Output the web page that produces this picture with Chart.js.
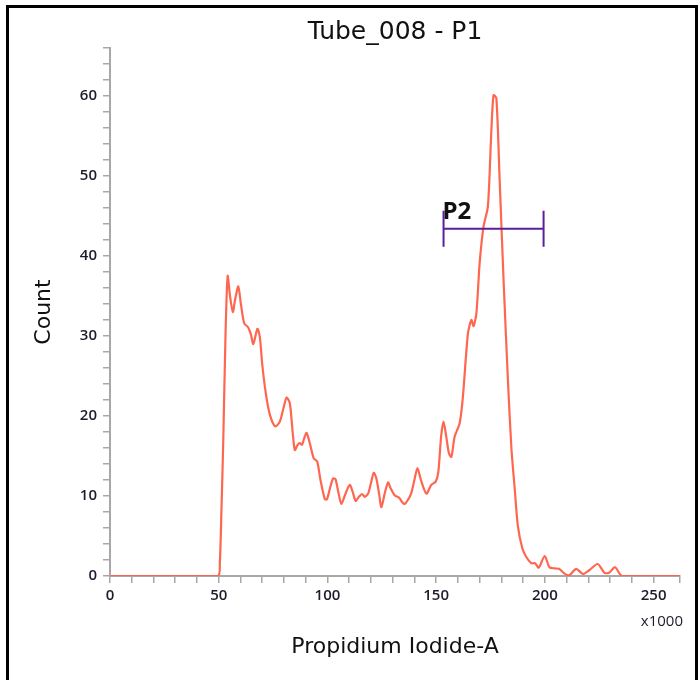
<!DOCTYPE html>
<html>
<head>
<meta charset="utf-8">
<script src="https://cdn.jsdelivr.net/npm/chart.js@4/dist/chart.umd.min.js"></script>
<style>
    html, body { margin: 0; padding: 0; background: #fff; }
    #wrap { position: relative; width: 700px; height: 680px; }
    #frame {
        position: absolute; left: 6px; top: 5px; width: 686px; height: 700px;
        border: 3px solid #000; border-bottom: none; pointer-events: none;
    }
</style>
</head>
<body>
<div id="wrap">
    <canvas id="chart-histogram" width="700" height="680"></canvas>
    <div id="frame"></div>
</div>
<script>
// Histogram data (PI channel in thousands, event count)
const piChannel = [
    0, 49.5, 50.5, 51.3, 52.1, 53.1, 54.1, 55.2, 56.5, 57.5, 59, 60.2, 61.7, 63.5, 64.8, 65.9,
    67.8, 68.9, 70, 71.2, 72.8, 74.3, 76.1, 78.1, 79.8, 81.2, 82.7, 84, 85, 86.3, 87.3, 88.3,
    89.3, 90.4, 91.9, 93.7, 95.3, 96.8, 98.8, 99.8, 101.2, 102.6, 103.7, 105, 106.4, 108.3,
    110.3, 111.5, 113, 114.5, 115.9, 117.2, 118.7, 120, 121.3, 122.5, 123.8, 124.8, 126.5,
    127.9, 129, 130.9, 132.9, 134.5, 135.5, 137, 138.6, 140, 141.4, 143, 145.5, 147.8, 149.8,
    151, 152.3, 153.4, 154.6, 155.9, 157, 158.5, 160.8, 162.3, 164.6, 166.2, 167.2, 168.5,
    170, 171.8, 173.8, 175.4, 176.4, 177.7, 179.2, 181, 183, 184.6, 186.1, 187.6, 189.6,
    191.4, 193.7, 195.5, 197.2, 199.9, 202.1, 204.4, 206.5, 209, 211.3, 214.4, 217.5, 220.5,
    224.3, 227.4, 229.5, 232.3, 235.5, 262.144
];
const counts = [
    0, 0, 1.6, 8.7, 17, 29.9, 37.5, 35, 33, 34.5, 36.2, 34, 31.6, 31.1, 30.2, 29,
    30.9, 29.9, 26.5, 23.7, 21, 19.5, 18.7, 19.3, 21, 22.3, 21.6, 18, 15.75, 16.4, 16.6, 16.4,
    17.2, 17.9, 16.6, 14.7, 14.3, 12, 9.6, 9.6, 11, 12.2, 12.1, 10.5, 9, 10.3,
    11.4, 10.6, 9.4, 9.9, 10.25, 9.9, 10.3, 11.6, 12.9, 12.2, 10.2, 8.6, 10.5,
    11.7, 11, 10.1, 9.8, 9.2, 9, 9.5, 10.4, 12, 13.5, 12, 10.3, 11.4, 11.8,
    13, 17.5, 19.3, 17.5, 15.3, 14.9, 17.4, 19.1, 22.4, 30.3, 32, 31.25, 32.8,
    39.1, 43.7, 46.2, 55.75, 60.1, 59.7, 49.5, 37, 24.5, 16, 11, 6.2, 3.5,
    2.4, 1.6, 1.6, 1.04, 2.5, 1.1, 0.95, 0.9, 0.3, 0.1, 0.9, 0.25, 0.75,
    1.5, 0.4, 0.4, 1.1, 0, 0
];

// Gate P2 (x in thousands, y in counts)
const gateName = 'P2';
const gateStart = 153.4;
const gateEnd = 199.4;
const gateLevel = 43.4;

const xMax = 262.144;
const yMax = 66;

const fontFamily = "'Open Sans', sans-serif";
const titleFamily = "'DejaVu Sans', sans-serif";

const gatePlugin = {
    id: 'gate',
    afterDraw(chart) {
        const { ctx, scales: { x, y } } = chart;
        const x1 = x.getPixelForValue(gateStart);
        const x2 = x.getPixelForValue(gateEnd);
        const yy = y.getPixelForValue(gateLevel);
        ctx.save();
        ctx.strokeStyle = '#5a1f9c';
        ctx.lineWidth = 2;
        ctx.beginPath();
        ctx.moveTo(x1, yy); ctx.lineTo(x2, yy);
        ctx.moveTo(x1, yy - 18); ctx.lineTo(x1, yy + 18);
        ctx.moveTo(x2, yy - 18); ctx.lineTo(x2, yy + 18);
        ctx.stroke();
        ctx.fillStyle = '#111';
        ctx.font = "bold 24px " + fontFamily;
        ctx.textBaseline = 'alphabetic';
        ctx.fillText(gateName, x1 - 1, yy - 10);
        // axis multiplier
        ctx.font = "15px " + fontFamily;
        ctx.textAlign = 'right';
        ctx.fillStyle = '#1c1c2c';
        ctx.fillText('x1000', x.right + 3, x.bottom - 54);
        ctx.restore();
    }
};

new Chart(document.getElementById('chart-histogram'), {
    type: 'line',
    data: {
        datasets: [{
            label: 'Count',
            data: piChannel.map((v, i) => ({ x: v, y: counts[i] })),
            borderColor: '#ff6650',
            borderWidth: 2.2,
            pointRadius: 0,
            tension: 0.25,
            fill: false
        }]
    },
    options: {
        responsive: false,
        animation: false,
        layout: { padding: { left: 10, right: 20, top: 0, bottom: 0 } },
        plugins: {
            legend: { display: false },
            tooltip: { enabled: false },
            title: {
                display: true,
                fullSize: false,
                text: 'Tube_008 - P1',
                color: '#111',
                font: { family: titleFamily, size: 25, weight: 'normal' },
                padding: { top: 17, bottom: 1 }
            }
        },
        scales: {
            x: {
                type: 'linear',
                min: 0,
                max: xMax,
                afterFit: (scale) => { scale.height = 104; },
                ticks: {
                    stepSize: 10,
                    autoSkip: false,
                    maxRotation: 0,
                    padding: 4,
                    color: '#1c1c2c',
                    font: { family: fontFamily, size: 15, weight: '600' },
                    callback: (v) => (v % 50 === 0 ? v : '')
                },
                grid: { drawOnChartArea: false, tickLength: 7, color: '#a8a8a8', lineWidth: 1.5 },
                border: { color: '#a8a8a8', width: 2 },
                title: {
                    display: true,
                    text: 'Propidium Iodide-A',
                    color: '#111',
                    font: { family: titleFamily, size: 22, weight: 'normal' },
                    padding: { top: 0, bottom: 20 }
                }
            },
            y: {
                min: 0,
                max: yMax,
                afterFit: (scale) => { scale.width = 100; },
                ticks: {
                    stepSize: 2,
                    autoSkip: false,
                    padding: 6,
                    color: '#1c1c2c',
                    font: { family: fontFamily, size: 15, weight: '600' },
                    callback: (v) => (v % 10 === 0 ? v : '')
                },
                grid: { drawOnChartArea: false, tickLength: 7, color: '#a8a8a8', lineWidth: 1.5 },
                border: { color: '#a8a8a8', width: 2 },
                title: {
                    display: true,
                    text: 'Count',
                    color: '#111',
                    font: { family: titleFamily, size: 22, weight: 'normal' },
                    padding: { top: 21, bottom: 0 }
                }
            }
        }
    },
    plugins: [gatePlugin]
});
</script>
</body>
</html>
